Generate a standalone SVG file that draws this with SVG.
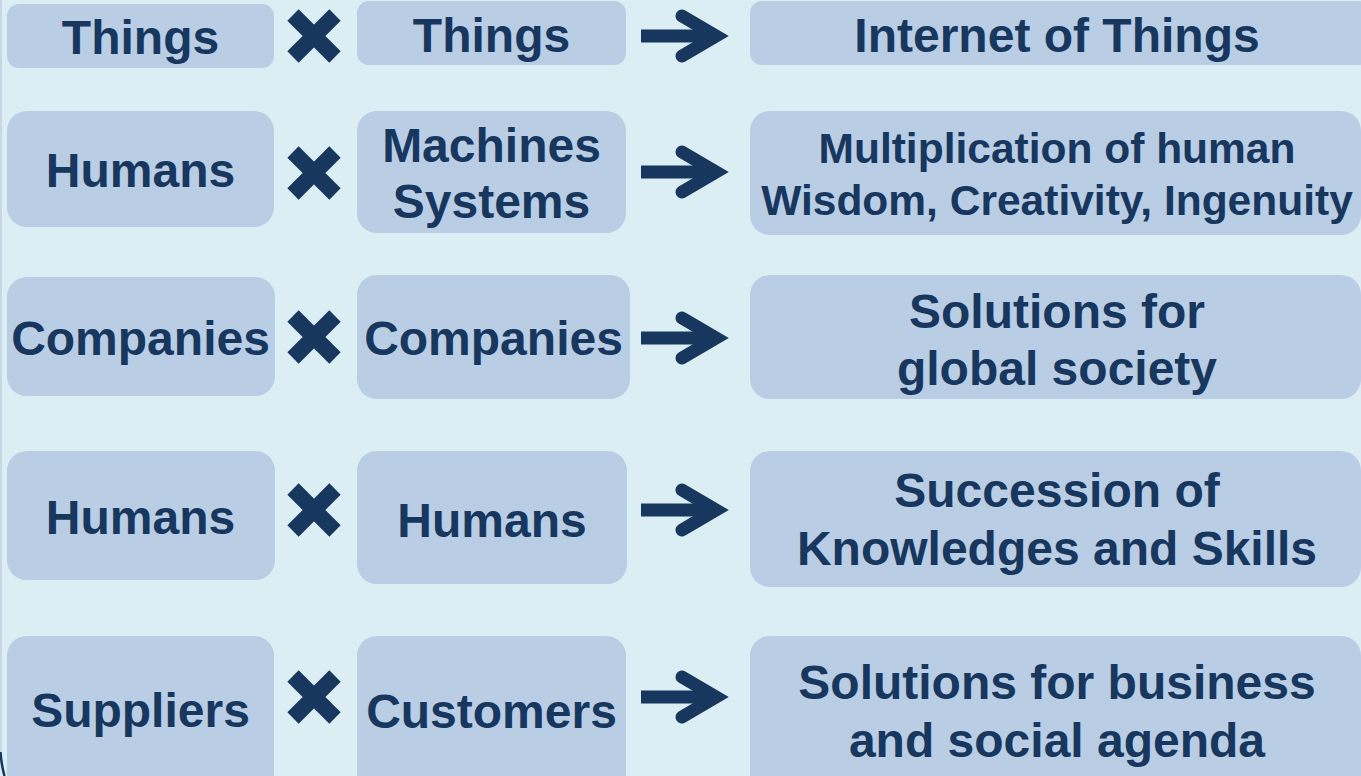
<svg xmlns="http://www.w3.org/2000/svg" width="1361" height="776" viewBox="0 0 1361 776">
<defs>
<style>
.box{fill:#B9CDE5;}
.t{font-family:"Liberation Sans",Arial,sans-serif;font-weight:bold;font-size:48px;fill:#17375E;text-anchor:middle;}
.s{font-size:42.5px;}
.x{stroke:#17375E;stroke-width:16;stroke-linecap:butt;fill:none;}
.shaft{stroke:#17375E;stroke-width:13;fill:none;}
.head{stroke:#17375E;stroke-width:13;fill:none;stroke-linecap:round;stroke-linejoin:miter;stroke-miterlimit:6;}
</style>
<g id="cross">
<path class="x" d="M-21,-21 L21,21 M21,-21 L-21,21"/>
</g>
<g id="arrow">
<path class="shaft" d="M641,0 L712,0"/>
<path class="head" d="M682,-20 L716,0 L682,20"/>
</g>
</defs>
<rect x="0" y="0" width="1361" height="776" fill="#DAEEF3"/>
<path d="M1,0 L1,752" stroke="#C6D8E6" stroke-width="2" fill="none"/>
<path d="M0.5,752 Q1.5,766 4.5,776" stroke="#17375E" stroke-width="2.5" fill="none"/>
<path d="M1355,776 Q1357,771 1361,769" stroke="#8C8C8C" stroke-width="3" fill="none"/>

<g id="row1-a"><rect class="box" x="7" y="4" width="267" height="64" rx="12"/><text class="t" x="140.5" y="54">Things</text></g>
<g id="row1-b"><rect class="box" x="357" y="1" width="269" height="64" rx="12"/><text class="t" x="491.5" y="52">Things</text></g>
<g id="row1-c"><rect class="box" x="750" y="1" width="620" height="64" rx="12"/><text class="t" x="1057" y="52">Internet of Things</text></g>

<g id="row2-a"><rect class="box" x="7" y="111" width="267" height="116" rx="20"/><text class="t" x="140.5" y="187">Humans</text></g>
<g id="row2-b"><rect class="box" x="357" y="111" width="269" height="122" rx="20"/><text class="t" x="491.5" y="162">Machines</text><text class="t" x="491.5" y="218">Systems</text></g>
<g id="row2-c"><rect class="box" x="750" y="111" width="611" height="124" rx="20"/><text class="t s" x="1057" y="163">Multiplication of human</text><text class="t s" x="1057" y="215">Wisdom, Creativity, Ingenuity</text></g>

<g id="row3-a"><rect class="box" x="7" y="277" width="268" height="119" rx="20"/><text class="t" x="140.5" y="355">Companies</text></g>
<g id="row3-b"><rect class="box" x="357" y="275" width="273" height="124" rx="20"/><text class="t" x="493.5" y="355">Companies</text></g>
<g id="row3-c"><rect class="box" x="750" y="275" width="611" height="124" rx="20"/><text class="t" x="1057" y="328">Solutions for</text><text class="t" x="1057" y="385">global society</text></g>

<g id="row4-a"><rect class="box" x="7" y="451" width="268" height="129" rx="20"/><text class="t" x="140.5" y="534">Humans</text></g>
<g id="row4-b"><rect class="box" x="357" y="451" width="270" height="133" rx="20"/><text class="t" x="492" y="537">Humans</text></g>
<g id="row4-c"><rect class="box" x="750" y="451" width="611" height="136" rx="20"/><text class="t" x="1057" y="507">Succession of</text><text class="t" x="1057" y="565">Knowledges and Skills</text></g>

<g id="row5-a"><rect class="box" x="7" y="636" width="267" height="170" rx="20"/><text class="t" x="140.5" y="727">Suppliers</text></g>
<g id="row5-b"><rect class="box" x="357" y="636" width="269" height="170" rx="20"/><text class="t" x="491.5" y="728">Customers</text></g>
<g id="row5-c"><rect class="box" x="750" y="636" width="611" height="170" rx="20"/><text class="t" x="1057" y="699">Solutions for business</text><text class="t" x="1057" y="757">and social agenda</text></g>

<g id="connectors">
<use href="#cross" x="314" y="36"/>
<use href="#cross" x="314" y="173"/>
<use href="#cross" x="314" y="337"/>
<use href="#cross" x="314" y="510"/>
<use href="#cross" x="314" y="697"/>
<use href="#arrow" x="0" y="36"/>
<use href="#arrow" x="0" y="172"/>
<use href="#arrow" x="0" y="338"/>
<use href="#arrow" x="0" y="510"/>
<use href="#arrow" x="0" y="697"/>
</g>
</svg>
